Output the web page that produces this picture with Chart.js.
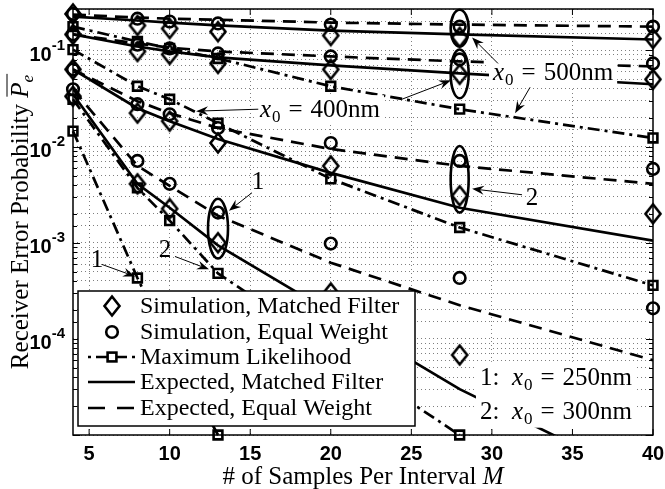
<!DOCTYPE html>
<html>
<head>
<meta charset="utf-8">
<script src="https://cdn.jsdelivr.net/npm/chart.js@4.4.0/dist/chart.umd.min.js"></script>
<style>
  html, body { margin: 0; padding: 0; background: #fff; }
</style>
</head>
<body>
<canvas id="chart" width="665" height="489"></canvas>
<script>
// sample counts M where everything was evaluated
const samples = [4, 8, 10, 13, 20, 28, 40];
const xTicks = [5, 10, 15, 20, 25, 30, 35, 40];
const yDecades = [-1, -2, -3, -4];

// x0 = 500nm
const simMF500 = [0.24, 0.182, 0.169, 0.157, 0.143, 0.137, 0.133];
const simEW500 = [0.24, 0.214, 0.200, 0.191, 0.186, 0.177, 0.177];
const ml500 = [0.177, 0.124, 0.105, 0.0826, 0.0424, 0.0245, 0.0123];
const expMF500 = [0.225, 0.205, 0.195, 0.182, 0.161, 0.147, 0.130];
const expEW500 = [0.236, 0.220, 0.214, 0.209, 0.195, 0.186, 0.177];

// x0 = 400nm
const simMF400 = [0.147, 0.0977, 0.0910, 0.0733, 0.0635, 0.0565, 0.0501];
const simEW400 = [0.147, 0.115, 0.105, 0.0931, 0.0867, 0.0807, 0.0733];
const ml400 = [0.102, 0.0424, 0.0311, 0.0175, 0.00462, 0.00144, 0.00036];
const expMF400 = [0.147, 0.110, 0.0977, 0.0847, 0.0700, 0.0578, 0.0445];
const expEW400 = [0.147, 0.118, 0.107, 0.0977, 0.0867, 0.0769, 0.0683];

// x0 = 300nm
const simMF300 = [0.0635, 0.0223, 0.0184, 0.0109, 0.0063, 0.00308, 0.0020];
const simEW300 = [0.0635, 0.0276, 0.0217, 0.0156, 0.0109, 0.0071, 0.00586];
const ml300 = [0.0311, 0.00372, 0.0017, 0.00048, 0.000078, 0.00001, null];
const expMF300 = [0.0635, 0.0251, 0.0184, 0.0120, 0.00533, 0.00231, 0.00105];
const expEW300 = [0.0635, 0.0297, 0.0223, 0.0156, 0.00944, 0.0063, 0.0041];

// x0 = 250nm
const simMF250 = [0.0334, 0.0041, 0.00226, 0.0010, 0.0003, 0.000068, null];
const simEW250 = [0.0395, 0.0071, 0.0041, 0.00206, 0.00098, 0.00043, 0.000208];
const ml250 = [0.0145, 0.00043, 0.000086, 0.00001, null, null, null];
const expMF250 = [0.0351, 0.0041, 0.00231, 0.00094, 0.000189, 0.00003, 0.0000031];
const expEW250 = [0.0395, 0.0063, 0.00391, 0.00191, 0.00062, 0.000224, 0.00006];

const legendLabels = ['Simulation, Matched Filter', 'Simulation, Equal Weight',
  'Maximum Likelihood', 'Expected, Matched Filter', 'Expected, Equal Weight'];

const SERIF = '"Liberation Serif", "Times New Roman", serif';
const SANS = '"Liberation Sans", Arial, sans-serif';
const dashDot = [12, 5, 3, 5];
const dashed = [13, 8];
const LW = 2.7;   // curve width
const MW = 2.6;   // marker edge width

const pts = arr => samples.map((m, i) => ({ x: m, y: arr[i] }));

// taller-than-wide diamond like the matlab 'd' marker
const diamond = (() => {
  const c = document.createElement('canvas');
  c.width = 20; c.height = 24;
  const g = c.getContext('2d');
  g.lineWidth = MW;
  g.strokeStyle = '#000';
  g.beginPath();
  g.moveTo(10, 2.5); g.lineTo(17.5, 12); g.lineTo(10, 21.5); g.lineTo(2.5, 12);
  g.closePath();
  g.stroke();
  return c;
})();

const simMF = arr => ({ data: pts(arr), showLine: false, pointStyle: diamond, pointRadius: 8, borderColor: '#000', clip: false });
const simEW = arr => ({ data: pts(arr), showLine: false, pointStyle: 'circle', pointRadius: 5.8, pointBorderWidth: MW,
  borderColor: '#000', pointBackgroundColor: 'rgba(0,0,0,0)', clip: false });
const ml = arr => ({ data: pts(arr), borderColor: '#000', borderWidth: LW, borderDash: dashDot, pointStyle: 'rect',
  pointRadius: 6.2, pointBorderWidth: MW, pointBackgroundColor: 'rgba(0,0,0,0)', clip: false });
const expMF = arr => ({ data: pts(arr), borderColor: '#000', borderWidth: LW, pointRadius: 0, clip: 0 });
const expEW = arr => ({ data: pts(arr), borderColor: '#000', borderWidth: LW, borderDash: dashed, pointRadius: 0, clip: 0 });

// annotations, positions in data units [M, log10 Pe]
const ellipses = [[28, -0.576, -0.959, 9], [28, -0.990, -1.497, 9], [28, -1.994, -2.687, 9], [13, -2.542, -3.164, 10]];
const arrows = [
  [[30.38, -1.135], [28.77, -0.865]],
  [[32.37, -1.383], [31.44, -1.652]],
  [[15.50, -1.611], [11.64, -1.631]],
  [[24.42, -1.507], [27.46, -1.311]],
  [[15.11, -2.480], [13.68, -2.667]],
  [[31.87, -2.501], [28.77, -2.439]],
  [[5.80, -3.226], [7.85, -3.350]],
  [[10.33, -3.143], [12.44, -3.277]]
];
const numLabels = [['1', 15.48, -2.377], ['2', 32.49, -2.542], ['1', 5.49, -3.184], ['2', 9.71, -3.081]];

function mathLabel(ctx, left, mid, prefix, val, draw) {
  const base = mid + 8;
  let p = left;
  ctx.textAlign = 'left';
  ctx.textBaseline = 'alphabetic';
  ctx.font = '25px ' + SERIF;
  if (prefix) { if (draw) ctx.fillText(prefix, p, base); p += ctx.measureText(prefix).width; }
  ctx.font = 'italic 25px ' + SERIF;
  if (draw) ctx.fillText('x', p, base);
  p += ctx.measureText('x').width + 1;
  ctx.font = '17px ' + SERIF;
  if (draw) ctx.fillText('0', p, base + 5);
  p += ctx.measureText('0').width + 8;
  ctx.font = '25px ' + SERIF;
  if (draw) ctx.fillText('=', p, base);
  p += ctx.measureText('=').width + 8;
  if (draw) ctx.fillText(val + 'nm', p, base);
  p += ctx.measureText(val + 'nm').width;
  return p - left;
}

function arrow(ctx, x1, y1, x2, y2) {
  const ang = Math.atan2(y2 - y1, x2 - x1);
  ctx.lineWidth = 1;
  ctx.beginPath();
  ctx.moveTo(x1, y1);
  ctx.lineTo(x2 - Math.cos(ang) * 8, y2 - Math.sin(ang) * 8);
  ctx.stroke();
  ctx.save();
  ctx.translate(x2, y2);
  ctx.rotate(ang);
  ctx.beginPath();
  ctx.moveTo(0, 0); ctx.lineTo(-12, -4.5); ctx.lineTo(-8, 0); ctx.lineTo(-12, 4.5);
  ctx.closePath();
  ctx.fill();
  ctx.restore();
}

const decor = {
  id: 'decor',
  afterDatasetsDraw(chart) {
    const { ctx, chartArea: a, scales: { x, y } } = chart;
    const X = m => x.getPixelForValue(m);
    const Y = lg => y.getPixelForValue(Math.pow(10, lg));
    ctx.save();
    ctx.setLineDash([]);
    ctx.strokeStyle = '#000';
    ctx.fillStyle = '#000';

    // axes box and inward ticks
    ctx.lineWidth = 1.5;
    ctx.strokeRect(a.left, a.top, a.right - a.left, a.bottom - a.top);
    ctx.lineWidth = 1;
    ctx.beginPath();
    xTicks.forEach(v => {
      const px = X(v);
      ctx.moveTo(px, a.bottom); ctx.lineTo(px, a.bottom - 6);
      ctx.moveTo(px, a.top); ctx.lineTo(px, a.top + 6);
    });
    y.ticks.forEach(t => {
      const lg = Math.log10(t.value);
      const major = Math.abs(lg - Math.round(lg)) < 1e-6;
      const len = major ? 7 : 4;
      const py = Math.round(y.getPixelForValue(t.value)) + 0.5;
      ctx.moveTo(a.left, py); ctx.lineTo(a.left + len, py);
      ctx.moveTo(a.right, py); ctx.lineTo(a.right - len, py);
    });
    ctx.stroke();

    // tick labels
    ctx.textBaseline = 'middle';
    ctx.textAlign = 'center';
    ctx.font = 'bold 20px ' + SANS;
    xTicks.forEach(v => ctx.fillText(String(v), X(v), a.bottom + 19));
    yDecades.forEach(d => {
      const py = Y(d);
      const right = a.left - 8;
      ctx.font = 'bold 15px ' + SANS;
      const sup = '-' + (-d);
      const ws = ctx.measureText(sup).width;
      ctx.textAlign = 'left';
      ctx.fillText(sup, right - ws, py - 5);
      ctx.font = 'bold 20px ' + SANS;
      ctx.textAlign = 'right';
      ctx.fillText('10', right - ws, py + 5);
    });

    // axis titles
    ctx.textAlign = 'left';
    ctx.textBaseline = 'alphabetic';
    ctx.font = '25px ' + SERIF;
    const xt = '# of Samples Per Interval ';
    const wxt = ctx.measureText(xt).width;
    ctx.font = 'italic 25px ' + SERIF;
    const wM = ctx.measureText('M').width;
    let sx = (a.left + a.right) / 2 - (wxt + wM) / 2;
    ctx.font = '25px ' + SERIF;
    ctx.fillText(xt, sx, a.bottom + 49);
    ctx.font = 'italic 25px ' + SERIF;
    ctx.fillText('M', sx + wxt, a.bottom + 49);

    ctx.save();
    ctx.translate(28, (a.top + a.bottom) / 2);
    ctx.rotate(-Math.PI / 2);
    const yt = 'Receiver Error Probability ';
    ctx.font = '25px ' + SERIF;
    const wyt = ctx.measureText(yt).width;
    ctx.font = 'italic 25px ' + SERIF;
    const wP = ctx.measureText('P').width;
    ctx.font = 'italic 17px ' + SERIF;
    const we = ctx.measureText('e').width;
    let tx = -(wyt + wP + we) / 2;
    ctx.font = '25px ' + SERIF;
    ctx.fillText(yt, tx, 0);
    tx += wyt;
    ctx.font = 'italic 25px ' + SERIF;
    ctx.fillText('P', tx, 0);
    ctx.font = 'italic 17px ' + SERIF;
    ctx.fillText('e', tx + wP, 5);
    ctx.lineWidth = 1;
    ctx.beginPath();
    ctx.moveTo(tx + 1, -21); ctx.lineTo(tx + wP + we + 1, -21);
    ctx.stroke();
    ctx.restore();

    // ellipses around simulation groups
    ctx.lineWidth = 2.6;
    ellipses.forEach(([m, top, bot, rx]) => {
      const y1 = Y(top), y2 = Y(bot);
      ctx.beginPath();
      ctx.ellipse(X(m), (y1 + y2) / 2, rx, (y2 - y1) / 2, 0, 0, Math.PI * 2);
      ctx.stroke();
    });

    // text labels with white background
    const boxLabel = (m, lg, val) => {
      const left = X(m), mid = Y(lg);
      const w = mathLabel(ctx, left, mid, '', val, false);
      ctx.fillStyle = '#fff';
      ctx.fillRect(left - 4, mid - 14, w + 8, 29);
      ctx.fillStyle = '#000';
      mathLabel(ctx, left, mid, '', val, true);
    };
    boxLabel(30.07, -1.228, '500');
    boxLabel(15.60, -1.611, '400');

    const bl = X(29.26), r1 = Y(-4.395), r2 = Y(-4.747);
    const wb = mathLabel(ctx, bl, r1, '1:  ', '250', false);
    ctx.fillStyle = '#fff';
    ctx.fillRect(bl - 4, r1 - 15, wb + 8, r2 - r1 + 32);
    ctx.fillStyle = '#000';
    mathLabel(ctx, bl, r1, '1:  ', '250', true);
    mathLabel(ctx, bl, r2, '2:  ', '300', true);

    ctx.font = '25px ' + SERIF;
    ctx.textAlign = 'center';
    ctx.textBaseline = 'middle';
    numLabels.forEach(([t, m, lg]) => ctx.fillText(t, X(m), Y(lg)));

    arrows.forEach(([p1, p2]) => arrow(ctx, X(p1[0]), Y(p1[1]), X(p2[0]), Y(p2[1])));

    // legend
    const L = a.left + 5, T = a.bottom - 144, W = 337, H = 135;
    ctx.fillStyle = '#fff';
    ctx.fillRect(L, T, W, H);
    ctx.lineWidth = 1.5;
    ctx.strokeRect(L, T, W, H);
    ctx.fillStyle = '#000';
    const rows = [15, 41, 66, 91, 117].map(r => T + r);
    const cx = L + 34;
    ctx.drawImage(diamond, cx - 10, rows[0] - 12);
    ctx.lineWidth = MW;
    ctx.beginPath(); ctx.arc(cx, rows[1], 5.8, 0, Math.PI * 2); ctx.stroke();
    ctx.lineWidth = LW;
    ctx.setLineDash([3, 5, 10, 0]);
    ctx.beginPath(); ctx.moveTo(L + 10, rows[2]); ctx.lineTo(L + 57, rows[2]); ctx.stroke();
    ctx.setLineDash([]);
    ctx.lineWidth = MW;
    ctx.fillStyle = '#fff';
    ctx.fillRect(cx - 4.4, rows[2] - 4.4, 8.8, 8.8);
    ctx.strokeRect(cx - 4.4, rows[2] - 4.4, 8.8, 8.8);
    ctx.fillStyle = '#000';
    ctx.lineWidth = LW;
    ctx.beginPath(); ctx.moveTo(L + 10, rows[3]); ctx.lineTo(L + 57, rows[3]); ctx.stroke();
    ctx.setLineDash([17, 12]);
    ctx.beginPath(); ctx.moveTo(L + 10, rows[4]); ctx.lineTo(L + 57, rows[4]); ctx.stroke();
    ctx.setLineDash([]);
    ctx.font = '24px ' + SERIF;
    ctx.textAlign = 'left';
    ctx.textBaseline = 'middle';
    legendLabels.forEach((t, i) => ctx.fillText(t, L + 62, rows[i] + 1));
    ctx.restore();
  }
};

const gridOpts = { color: 'rgba(0,0,0,0.5)', lineWidth: 1, drawTicks: false };

new Chart(document.getElementById('chart'), {
  type: 'line',
  data: {
    datasets: [
      simMF(simMF500), simEW(simEW500), ml(ml500), expMF(expMF500), expEW(expEW500),
      simMF(simMF400), simEW(simEW400), ml(ml400), expMF(expMF400), expEW(expEW400),
      simMF(simMF300), simEW(simEW300), ml(ml300), expMF(expMF300), expEW(expEW300),
      simMF(simMF250), simEW(simEW250), ml(ml250), expMF(expMF250), expEW(expEW250)
    ]
  },
  options: {
    responsive: false,
    animation: false,
    devicePixelRatio: 1,
    layout: { padding: { left: 73, right: 12, top: 8, bottom: 54 } },
    plugins: { legend: { display: false }, tooltip: { enabled: false } },
    scales: {
      x: {
        type: 'linear', min: 4, max: 40,
        ticks: { display: false },
        grid: gridOpts,
        border: { display: false, dash: [1, 3] },
        afterBuildTicks: s => { s.ticks = xTicks.slice(0, -1).map(v => ({ value: v })); },
        afterFit: s => { s.height = 0; }
      },
      y: {
        type: 'logarithmic', min: 1e-5, max: 0.27,
        ticks: { display: false },
        grid: gridOpts,
        border: { display: false, dash: [1, 3] },
        afterFit: s => { s.width = 0; }
      }
    }
  },
  plugins: [decor]
});
</script>
</body>
</html>
